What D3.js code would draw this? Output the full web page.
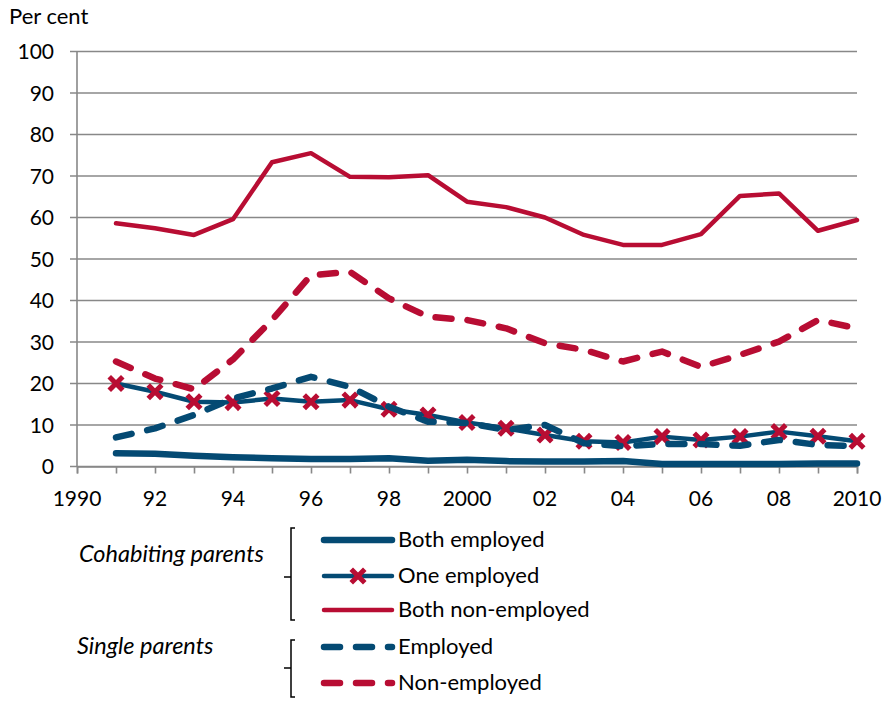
<!DOCTYPE html>
<html>
<head>
<meta charset="utf-8">
<script src="https://cdn.jsdelivr.net/npm/d3@7"></script>
<style>
  body { margin: 0; background: #fff; }
  svg text { font-family: Lato, "Open Sans", sans-serif; fill: #000; }
</style>
</head>
<body>
<div id="chart"></div>
<script>
// data
const years = d3.range(1991, 2011);
const bothEmployed    = [3.2, 3.1, 2.6, 2.2, 2.0, 1.8, 1.8, 2.0, 1.4, 1.6, 1.3, 1.2, 1.2, 1.3, 0.6, 0.6, 0.6, 0.6, 0.7, 0.7];
const oneEmployed     = [20.0, 18.0, 15.6, 15.4, 16.4, 15.6, 16.0, 13.8, 12.4, 10.6, 9.2, 7.6, 6.1, 5.8, 7.2, 6.4, 7.2, 8.4, 7.3, 6.1];
const bothNonEmployed = [58.6, 57.4, 55.8, 59.6, 73.3, 75.5, 69.8, 69.7, 70.2, 63.8, 62.5, 60.0, 55.8, 53.4, 53.4, 56.0, 65.2, 65.8, 56.8, 59.4];
const singleEmployed  = [7.0, 9.2, 12.4, 16.4, 18.8, 21.6, 19.2, 14.4, 10.8, 10.5, 8.8, 10.0, 5.6, 4.9, 5.4, 5.4, 5.0, 6.4, 5.2, 4.9];
const singleNonEmployed = [25.3, 21.2, 18.6, 25.8, 35.3, 46.1, 46.9, 40.5, 36.1, 35.3, 33.3, 29.7, 28.1, 25.3, 27.7, 24.0, 26.9, 30.1, 35.3, 33.3];

const yTicks = [0, 10, 20, 30, 40, 50, 60, 70, 80, 90, 100];
const xTickYears = d3.range(1990, 2011);
const xLabelYears = [1990, 1992, 1994, 1996, 1998, 2000, 2002, 2004, 2006, 2008, 2010];
const xLabels = ["1990", "92", "94", "96", "98", "2000", "02", "04", "06", "08", "2010"];

const groupNames = ["Cohabiting parents", "Single parents"];
const legendNames = ["Both employed", "One employed", "Both non-employed", "Employed", "Non-employed"];

const blue = "#044a73";
const red = "#b80d33";

let width = 886, height = 701;

let svg = d3.select("#chart").append("svg")
    .attr("width", width)
    .attr("height", height);

let x = d3.scaleLinear().domain([1990, 2010]).range([77, 857]);
let y = d3.scaleLinear().domain([0, 100]).range([466.5, 51.5]);

svg.append("text")
    .attr("x", 9)
    .attr("y", 24)
    .attr("font-size", "22px")
    .text("Per cent");

// gridlines
svg.append("g")
    .selectAll("line")
    .data(yTicks)
    .enter().append("line")
    .attr("x1", x(1990) - 7)
    .attr("x2", x(2010))
    .attr("y1", d => y(d))
    .attr("y2", d => y(d))
    .attr("stroke", "#888")
    .attr("stroke-width", 1.6);

// y labels
svg.append("g")
    .selectAll("text")
    .data(yTicks)
    .enter().append("text")
    .attr("x", 54)
    .attr("y", d => y(d))
    .attr("dy", "0.36em")
    .attr("text-anchor", "end")
    .attr("font-size", "21px")
    .text(d => d);

// y axis line
svg.append("line")
    .attr("x1", x(1990)).attr("x2", x(1990))
    .attr("y1", y(100)).attr("y2", y(0))
    .attr("stroke", "#888").attr("stroke-width", 1.6);

// x axis
let xAxis = svg.append("g")
    .attr("transform", "translate(0," + y(0) + ")")
    .call(d3.axisBottom(x).tickValues(xTickYears).tickSize(7).tickFormat(""));
xAxis.select(".domain").attr("stroke", "#888").attr("stroke-width", 1.6);
xAxis.selectAll(".tick line").attr("stroke", "#888").attr("stroke-width", 1.6);

svg.append("g")
    .selectAll("text")
    .data(xLabelYears)
    .enter().append("text")
    .attr("x", d => x(d))
    .attr("y", 506)
    .attr("text-anchor", "middle")
    .attr("font-size", "21px")
    .text((d, i) => xLabels[i]);

let line = d3.line()
    .x((d, i) => x(years[i]))
    .y(d => y(d));

const series = [
    { values: bothEmployed, color: blue, w: 6.5, dash: null },
    { values: oneEmployed, color: blue, w: 4.5, dash: null, marker: true },
    { values: bothNonEmployed, color: red, w: 4.5, dash: null },
    { values: singleEmployed, color: blue, w: 6.5, dash: "16,16" },
    { values: singleNonEmployed, color: red, w: 6.5, dash: "16,16" }
];

let markerPath = "M-5,-5L5,5M5,-5L-5,5";

function drawMarkers(g, vals) {
    g.selectAll(".mk")
        .data(vals)
        .enter().append("path")
        .attr("class", "mk")
        .attr("transform", (d, i) => "translate(" + x(years[i]) + "," + y(d) + ")")
        .attr("d", markerPath)
        .attr("stroke", red)
        .attr("stroke-width", 5)
        .attr("stroke-linecap", "square")
        .attr("fill", "none");
}

series.forEach(s => {
    let g = svg.append("g");
    g.append("path")
        .datum(s.values)
        .attr("d", line)
        .attr("fill", "none")
        .attr("stroke", s.color)
        .attr("stroke-width", s.w)
        .attr("stroke-linejoin", "round")
        .attr("stroke-linecap", "round")
        .attr("stroke-dasharray", s.dash);
    if (s.marker) drawMarkers(g, s.values);
});

// legend
let leg = svg.append("g");
const legendRows = [540, 576, 610, 647, 683];

legendRows.forEach((ly, i) => {
    let s = series[i];
    leg.append("line")
        .attr("x1", 324).attr("x2", 392)
        .attr("y1", ly).attr("y2", ly)
        .attr("stroke", s.color)
        .attr("stroke-width", s.w)
        .attr("stroke-linecap", "round")
        .attr("stroke-dasharray", s.dash);
    if (s.marker) {
        leg.append("path")
            .attr("transform", "translate(358," + ly + ")")
            .attr("d", markerPath)
            .attr("stroke", red)
            .attr("stroke-width", 5)
            .attr("stroke-linecap", "square")
            .attr("fill", "none");
    }
    leg.append("text")
        .attr("x", 398)
        .attr("y", ly)
        .attr("dy", "0.34em")
        .attr("font-size", "22px")
        .text(legendNames[i]);
});

// group labels and brackets
const groups = [
    { name: groupNames[0], ty: 554, tx: 79, top: 528, bottom: 620, mid: 577 },
    { name: groupNames[1], ty: 646, tx: 77, top: 640, bottom: 697, mid: 668 }
];
groups.forEach(gr => {
    leg.append("text")
        .attr("x", gr.tx)
        .attr("y", gr.ty)
        .attr("dy", "0.34em")
        .attr("font-size", "23.5px")
        .attr("font-style", "italic")
        .text(gr.name);
    leg.append("path")
        .attr("d", "M295," + gr.top + "H291V" + gr.bottom + "H295M291," + gr.mid + "H284")
        .attr("fill", "none")
        .attr("stroke", "#000")
        .attr("stroke-width", 1.5);
});
</script>
</body>
</html>
